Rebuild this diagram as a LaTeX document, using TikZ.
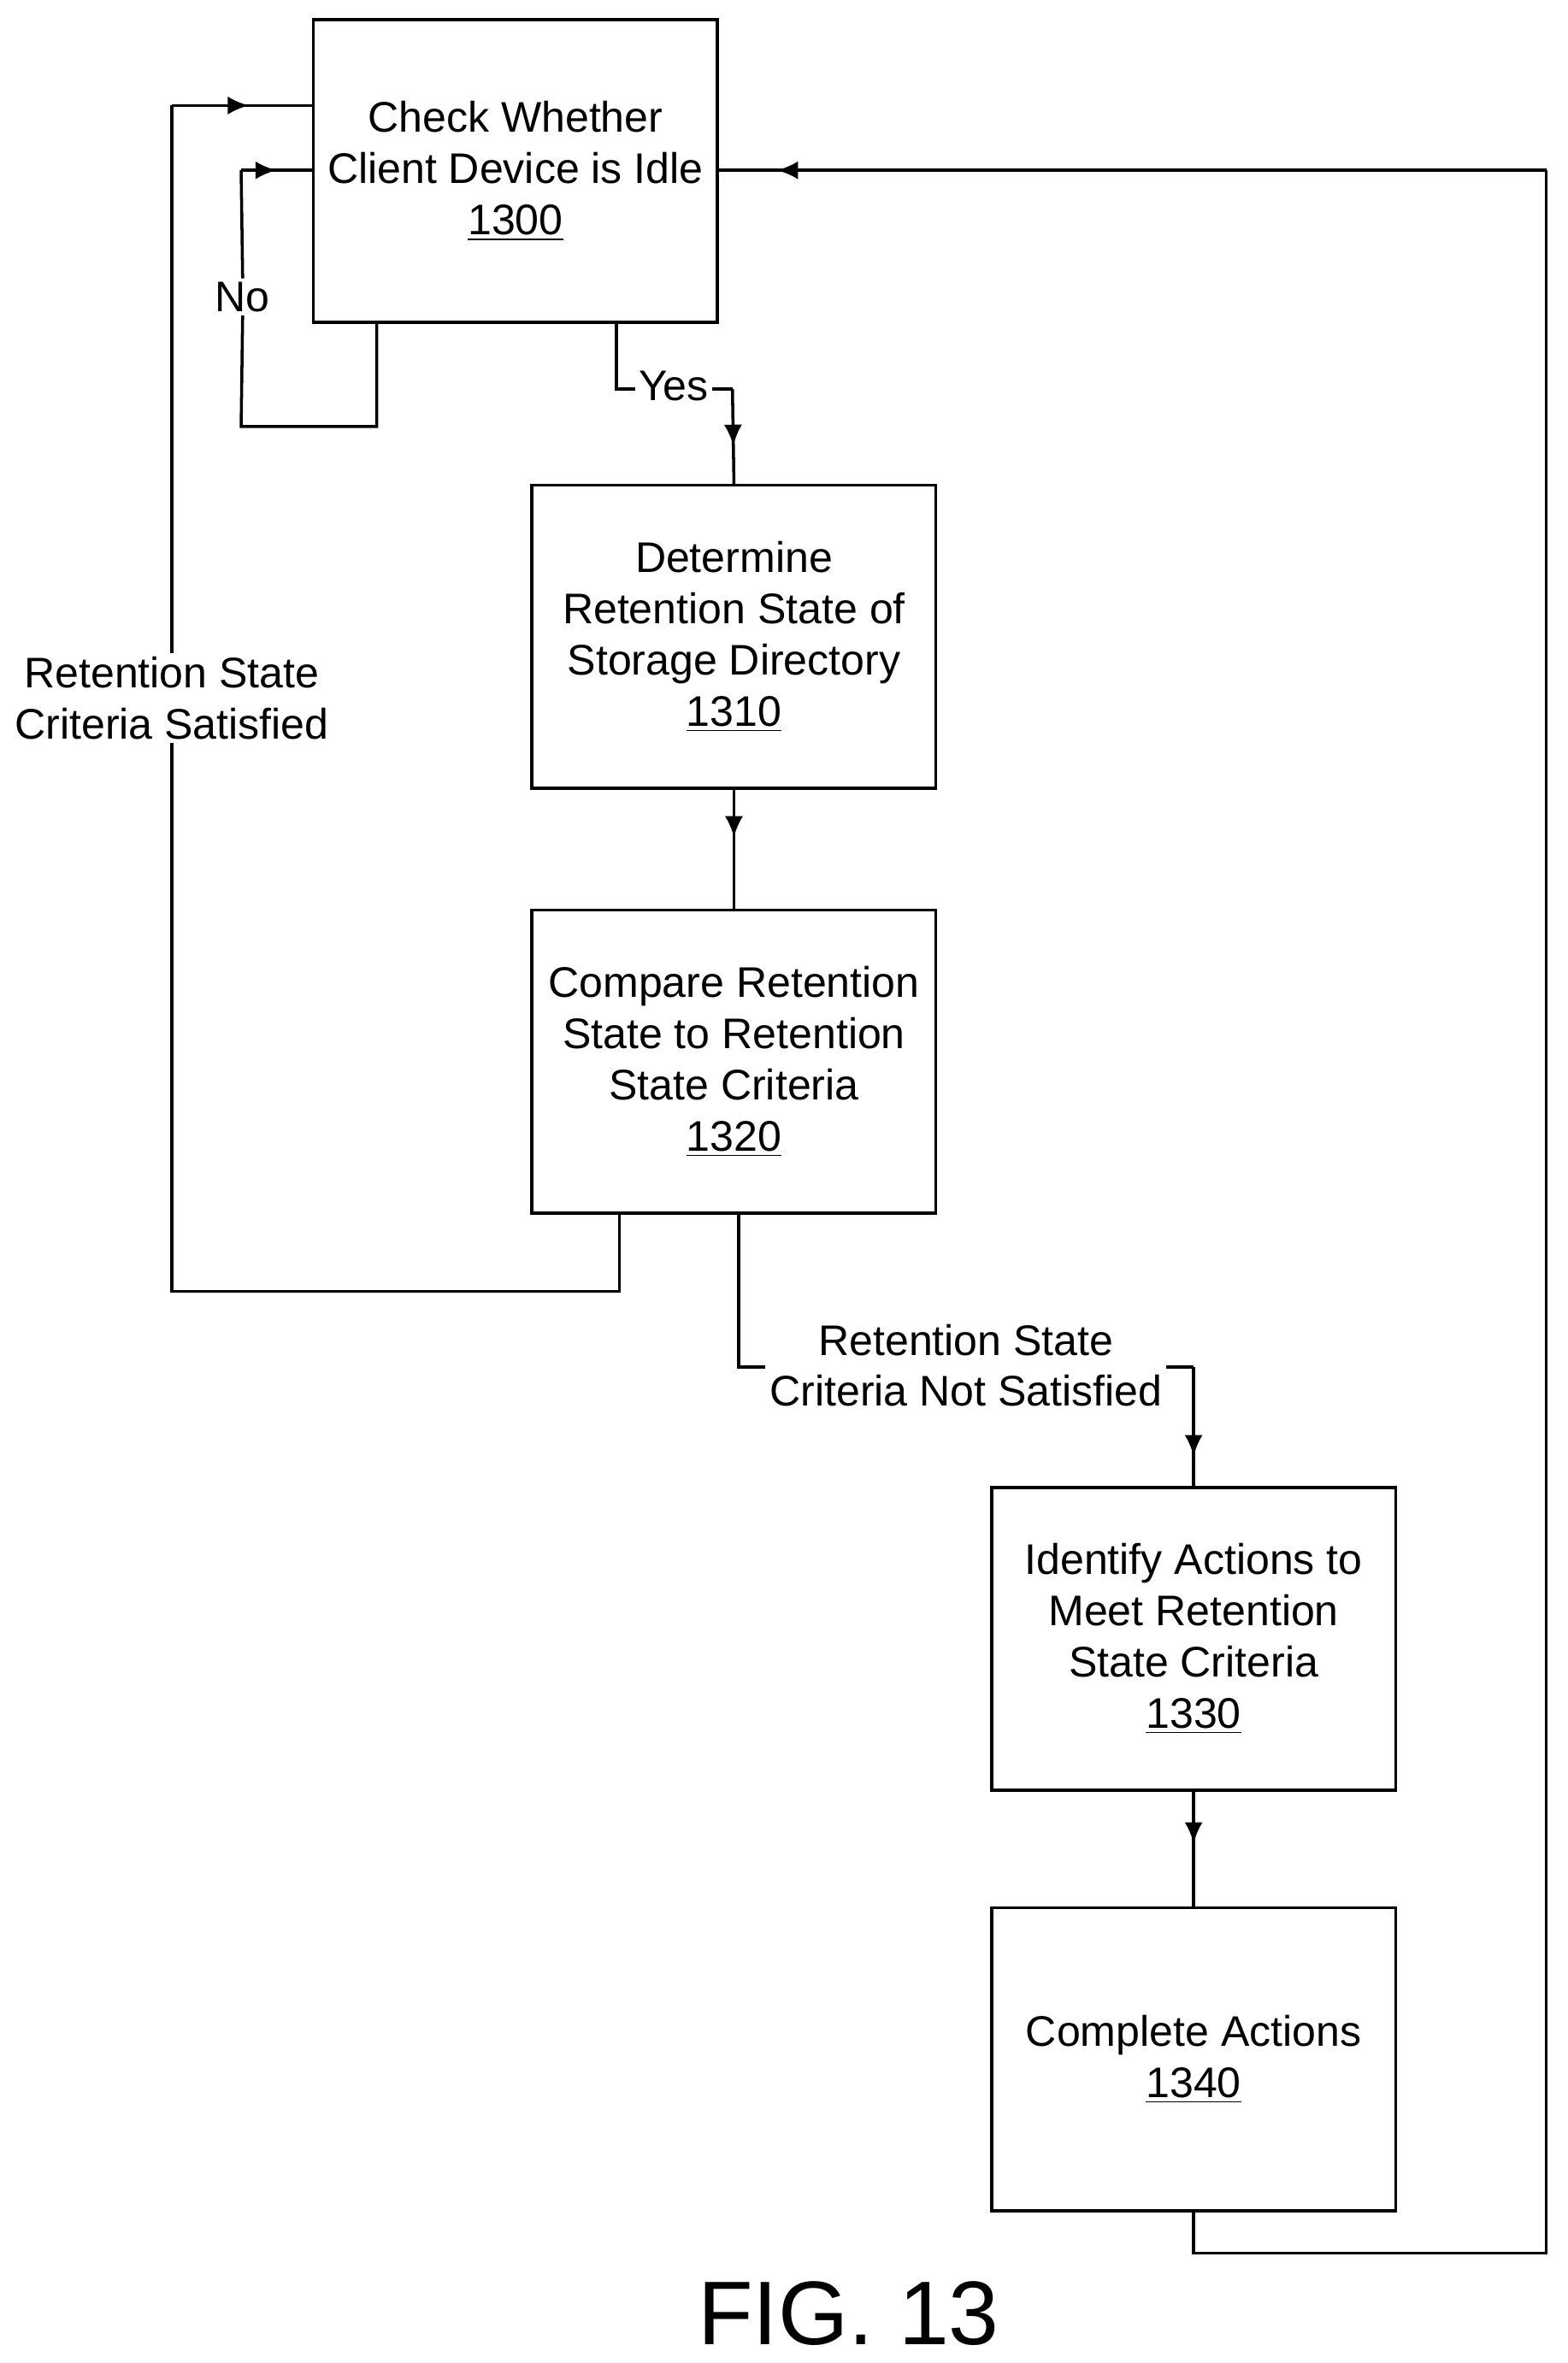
\documentclass[tikz,border=0pt]{standalone}
\usepackage{fontspec}
\setmainfont{Liberation Sans}
\usetikzlibrary{arrows.meta,decorations.markings}
\begin{document}
\begin{tikzpicture}[x=0.5pt,y=-0.5pt,
  box/.style={draw,line width=1pt,minimum width=134pt,minimum height=100.5pt,align=center,font=\fontsize{14.2}{17}\selectfont,anchor=north west},
  ln/.style={line width=1pt},
  lbl/.style={align=center,font=\fontsize{14.2}{17}\selectfont,inner sep=1pt},
  mid/.style={decoration={markings,mark=at position #1 with {\arrow{Latex[length=7pt,width=6pt]}}},postaction=decorate}]
\useasboundingbox (0,0) rectangle (1040,1568);
\node[box] (a) at (207,12) {Check Whether\\Client Device is Idle\\\underline{1300}};
\node[box] (b) at (352,321) {Determine\\Retention State of\\Storage Directory\\\underline{1310}};
\node[box] (c) at (352,603) {Compare Retention\\State to Retention\\State Criteria\\\underline{1320}};
\node[box] (d) at (657,986) {Identify Actions to\\Meet Retention\\State Criteria\\\underline{1330}};
\node[box] (e) at (657,1265) {Complete Actions\\\underline{1340}};
\node[font=\fontsize{30}{34}\selectfont] (fig) at (563,1535) {FIG. 13};
% labels
\node[lbl] (no) at (161,197) {No};
\node[lbl] (yes) at (447,256) {Yes};
\node[lbl] (sat) at (114,463) {Retention State\\Criteria Satisfied};
\node[lbl] (ns) at (641,906) {Retention State\\Criteria Not Satisfied};
% No loop
\coordinate (n1) at (160,113);
\draw[ln] (250,213) |- (160,283) -- (no.south);
\draw[ln] (no.north) -- (n1);
\draw[ln,mid=0.5] (n1) -- (n1-|a.west);
% Yes
\coordinate (y0) at (yes.west|-0,258);
\coordinate (y1) at (486,258);
\draw[ln] (409,213) |- (y0);
\draw[ln] (yes.east|-y1) -- (y1);
\draw[ln,mid=0.6] (y1) -- (b.north);
% b->c
\draw[ln,mid=0.4] (b.south) -- (c.north);
% satisfied loop
\coordinate (s1) at (114,70);
\draw[ln] (411,804) |- (114,857) -- (sat.south);
\draw[ln] (sat.north) -- (s1);
\draw[ln,mid=0.55] (s1) -- (s1-|a.west);
% not satisfied
\coordinate (t0) at (508,907);
\coordinate (t1) at (d.north|-0,907);
\draw[ln] (490,804) |- (t0);
\draw[ln] (774,907) -- (t1);
\draw[ln,mid=0.75] (t1) -- (d.north);
% d->e
\draw[ln,mid=0.45] (d.south) -- (e.north);
% back loop
\coordinate (r1) at (1026,113);
\draw[ln] (e.south) |- (1026,1495) -- (r1);
\draw[ln,mid=0.93] (r1) -- (r1-|a.east);
\end{tikzpicture}
\end{document}
